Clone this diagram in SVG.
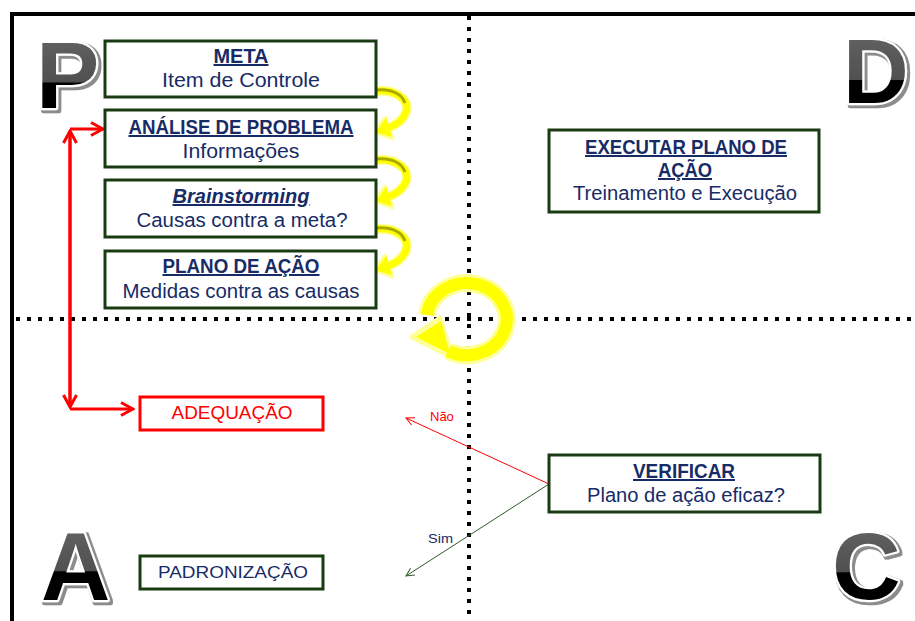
<svg xmlns="http://www.w3.org/2000/svg" xmlns:xlink="http://www.w3.org/1999/xlink" width="915" height="621" viewBox="0 0 915 621">
  <style>
    .box { fill: #ffffff; stroke: #193a12; stroke-width: 3; }
    .box-red { fill: #ffffff; stroke: #ff0000; stroke-width: 3; }
    .ttl { font-family: "Liberation Sans", Arial, sans-serif; font-weight: bold; font-size: 20px; fill: #172b66; text-anchor: middle; text-decoration: underline; }
    .sub { font-family: "Liberation Sans", Arial, sans-serif; font-size: 20px; fill: #172b66; text-anchor: middle; }
    .small { font-family: "Liberation Sans", Arial, sans-serif; font-size: 13px; }
    .big { font-family: "Liberation Sans", Arial, sans-serif; font-weight: bold; stroke: #ffffff; stroke-width: 4.5; stroke-linejoin: round; paint-order: stroke; filter: url(#letter-edge); }
    .grid { stroke: #000000; stroke-width: 4; stroke-dasharray: 4 7; fill: none; }
    .red-line { stroke: #ff0000; stroke-width: 3; fill: none; }
  </style>
  <defs>
    <filter id="letter-edge" filterUnits="userSpaceOnUse" x="0" y="0" width="915" height="621">
      <feMorphology in="SourceAlpha" operator="dilate" radius="1.2" result="grown"/>
      <feOffset in="grown" dx="1.5" dy="1.5" result="moved"/>
      <feGaussianBlur in="moved" stdDeviation="0.6" result="soft"/>
      <feFlood flood-color="#8c8c8c"/>
      <feComposite operator="in" in2="soft" result="edge"/>
      <feMerge><feMergeNode in="edge"/><feMergeNode in="SourceGraphic"/></feMerge>
    </filter>
    <linearGradient id="grad-p" gradientUnits="userSpaceOnUse" x1="0" y1="40" x2="0" y2="108">
      <stop offset="0" stop-color="#606060"/><stop offset="0.62" stop-color="#505050"/>
      <stop offset="0.63" stop-color="#000000"/><stop offset="1" stop-color="#000000"/>
    </linearGradient>
    <linearGradient id="grad-d" gradientUnits="userSpaceOnUse" x1="0" y1="38" x2="0" y2="103">
      <stop offset="0" stop-color="#606060"/><stop offset="0.64" stop-color="#505050"/>
      <stop offset="0.65" stop-color="#000000"/><stop offset="1" stop-color="#000000"/>
    </linearGradient>
    <linearGradient id="grad-a" gradientUnits="userSpaceOnUse" x1="0" y1="531" x2="0" y2="600">
      <stop offset="0" stop-color="#606060"/><stop offset="0.58" stop-color="#505050"/>
      <stop offset="0.59" stop-color="#000000"/><stop offset="1" stop-color="#000000"/>
    </linearGradient>
    <linearGradient id="grad-c" gradientUnits="userSpaceOnUse" x1="0" y1="530" x2="0" y2="600">
      <stop offset="0" stop-color="#606060"/><stop offset="0.6" stop-color="#505050"/>
      <stop offset="0.61" stop-color="#000000"/><stop offset="1" stop-color="#000000"/>
    </linearGradient>
    <marker id="chev-red" viewBox="-14 -8 16 16" refX="0" refY="0" markerWidth="16" markerHeight="16" markerUnits="userSpaceOnUse" orient="auto">
      <path d="M-12,-6.5 L0,0 L-12,6.5" fill="none" stroke="#ff0000" stroke-width="3"/>
    </marker>
    <marker id="open-red" viewBox="-10 -6 12 12" refX="0" refY="0" markerWidth="12" markerHeight="12" markerUnits="userSpaceOnUse" orient="auto">
      <path d="M-8,-4 L0,0 L-8,4" fill="none" stroke="#ff0000" stroke-width="1"/>
    </marker>
    <marker id="open-green" viewBox="-10 -6 12 12" refX="0" refY="0" markerWidth="12" markerHeight="12" markerUnits="userSpaceOnUse" orient="auto">
      <path d="M-8,-4 L0,0 L-8,4" fill="none" stroke="#2f5a2a" stroke-width="1"/>
    </marker>
    <!-- curved yellow step arrow between stacked boxes -->
    <g id="step-arrow">
      <path d="M376,91 C396,89 410,100 406,112 C403,121 396,125 388,128" fill="none" stroke="#ffff99" stroke-width="10"/>
      <polygon points="374,132 385,117 393,139" fill="#ffff99" stroke="#ffff99" stroke-width="3" stroke-linejoin="round"/>
      <path d="M376,91 C396,89 410,100 406,112 C403,121 396,125 388,128" fill="none" stroke="#ffff00" stroke-width="7"/>
      <path d="M377,90 C392,89 402,94 405,103" fill="none" stroke="#a9a900" stroke-width="3"/>
      <polygon points="377,132 386,119 391,136" fill="#ffff00" stroke="#ffff00" stroke-width="1.5" stroke-linejoin="round"/>
    </g>
  </defs>

  <rect width="915" height="621" fill="#ffffff"/>

  <!-- frame and quadrant dividers -->
  <g id="frame">
    <rect x="12" y="14" width="1000" height="1000" fill="none" stroke="#000000" stroke-width="4"/>
    <line class="grid" x1="469" y1="16" x2="469" y2="621"/>
    <line class="grid" x1="16" y1="319" x2="915" y2="319"/>
  </g>

  <!-- cycle arrow at the centre -->
  <g id="cycle">
    <path d="M427,315 A40,36 0 1 1 448,351" fill="none" stroke="#ffff99" stroke-width="18"/>
    <polygon points="412,337 440,318 452,357" fill="#ffff99" stroke="#ffff99" stroke-width="5" stroke-linejoin="round"/>
    <path d="M427,315 A40,36 0 1 1 448,351" fill="none" stroke="#ffff00" stroke-width="12"/>
    <polygon points="416,337 441,321 450,354" fill="#ffff00"/>
  </g>

  <!-- quadrant letters -->
  <g id="letter-p">
    <text class="big" x="36" y="108" font-size="95" fill="url(#grad-p)">P</text>
  </g>
  <g id="letter-d">
    <text class="big" x="843" y="103" font-size="91" fill="url(#grad-d)">D</text>
  </g>
  <g id="letter-a">
    <text class="big" x="41" y="600" font-size="96" fill="url(#grad-a)">A</text>
  </g>
  <g id="letter-c">
    <text class="big" x="832" y="599" font-size="95" fill="url(#grad-c)">C</text>
  </g>

  <!-- connectors -->
  <g id="connectors">
    <use xlink:href="#step-arrow"/>
    <use xlink:href="#step-arrow" transform="translate(0,69)"/>
    <use xlink:href="#step-arrow" transform="translate(0,138)"/>
    <line class="red-line" x1="70" y1="129" x2="103" y2="129" marker-end="url(#chev-red)"/>
    <line class="red-line" x1="70" y1="407" x2="70" y2="131" marker-end="url(#chev-red)"/>
    <line class="red-line" x1="70" y1="131" x2="70" y2="407" marker-end="url(#chev-red)"/>
    <line class="red-line" x1="70" y1="409" x2="133" y2="409" marker-end="url(#chev-red)"/>
    <line x1="549" y1="484" x2="406" y2="418" stroke="#ff0000" stroke-width="1" marker-end="url(#open-red)"/>
    <line x1="549" y1="484" x2="406" y2="576" stroke="#2f5a2a" stroke-width="1" marker-end="url(#open-green)"/>
    <text class="small" x="430" y="421" fill="#ff0000">Não</text>
    <text class="small" x="428" y="543" fill="#172b66" textLength="25" lengthAdjust="spacingAndGlyphs">Sim</text>
  </g>

  <!-- plan steps -->
  <g id="meta">
    <rect class="box" x="105" y="41" width="271" height="56"/>
    <text class="ttl" x="241" y="63" textLength="55" lengthAdjust="spacingAndGlyphs">META</text>
    <text class="sub" x="241" y="87" textLength="158" lengthAdjust="spacingAndGlyphs">Item de Controle</text>
  </g>
  <g id="analise">
    <rect class="box" x="105" y="110" width="271" height="57"/>
    <text class="ttl" x="241" y="134" textLength="225" lengthAdjust="spacingAndGlyphs">ANÁLISE DE PROBLEMA</text>
    <text class="sub" x="241" y="158" textLength="117" lengthAdjust="spacingAndGlyphs">Informações</text>
  </g>
  <g id="brainstorming">
    <rect class="box" x="105" y="180" width="271" height="57"/>
    <text class="ttl" x="241" y="203" font-style="italic" textLength="137" lengthAdjust="spacingAndGlyphs">Brainstorming</text>
    <text class="sub" x="242" y="227" textLength="211" lengthAdjust="spacingAndGlyphs">Causas contra a meta?</text>
  </g>
  <g id="plano">
    <rect class="box" x="105" y="251" width="271" height="57"/>
    <text class="ttl" x="241" y="273" textLength="157" lengthAdjust="spacingAndGlyphs">PLANO DE AÇÃO</text>
    <text class="sub" x="241" y="298" textLength="237" lengthAdjust="spacingAndGlyphs">Medidas contra as causas</text>
  </g>

  <!-- do -->
  <g id="executar">
    <rect class="box" x="549" y="130" width="270" height="82"/>
    <text class="ttl" x="686" y="154" textLength="202" lengthAdjust="spacingAndGlyphs">EXECUTAR PLANO DE</text>
    <text class="ttl" x="685" y="177" textLength="54" lengthAdjust="spacingAndGlyphs">AÇÃO</text>
    <text class="sub" x="685" y="200" textLength="224" lengthAdjust="spacingAndGlyphs">Treinamento e Execução</text>
  </g>

  <!-- check -->
  <g id="verificar">
    <rect class="box" x="549" y="455" width="271" height="57"/>
    <text class="ttl" x="684" y="478" textLength="102" lengthAdjust="spacingAndGlyphs">VERIFICAR</text>
    <text class="sub" x="686" y="502" textLength="198" lengthAdjust="spacingAndGlyphs">Plano de ação eficaz?</text>
  </g>

  <!-- act -->
  <g id="adequacao">
    <rect class="box-red" x="140" y="397" width="183" height="33"/>
    <text class="sub" x="232" y="419" style="fill:#ff0000;font-size:18px" textLength="121" lengthAdjust="spacingAndGlyphs">ADEQUAÇÃO</text>
  </g>
  <g id="padronizacao">
    <rect class="box" x="140" y="556" width="183" height="33"/>
    <text class="sub" x="233" y="578" style="font-size:17px" textLength="150" lengthAdjust="spacingAndGlyphs">PADRONIZAÇÃO</text>
  </g>
</svg>
